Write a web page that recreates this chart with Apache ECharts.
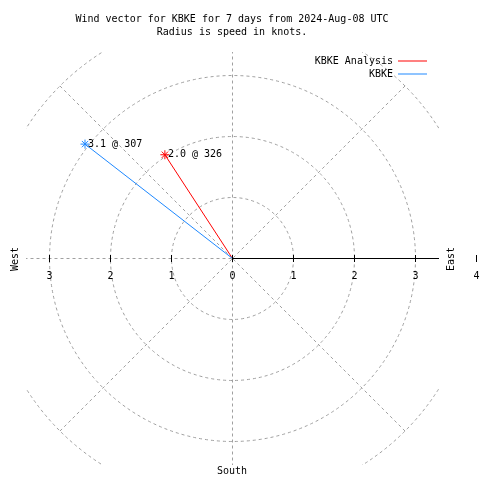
<!DOCTYPE html>
<html><head><meta charset="utf-8">
<script src="https://cdn.jsdelivr.net/npm/echarts@6/dist/echarts.min.js"></script>
<style>html,body{margin:0;padding:0;background:#fff}#c{width:480px;height:480px}</style>
</head><body><div id="c"></div>
<script>
// ---- data ----
const seriesNames = ['KBKE Analysis', 'KBKE'];
const seriesColors = ['#ff0000', '#1e88ff'];
const speeds = [2.03, 3.06];        // knots (radius), label shows 1 decimal
const directions = [326.9, 307.8];  // degrees (compass bearing), label shows whole degrees
const axisMin = -4, axisMax = 4;    // horizontal speed scale (knots)
const compassLabels = ['West', 'East', 'South'];
const titleLines = ['Wind vector for KBKE for 7 days from 2024-Aug-08 UTC', 'Radius is speed in knots.'];

// ---- layout ----
const FONT = 'DejaVu Sans Mono';
const CX = 232.5, CY = 258.5, R = 244;
const GRID = '#a0a0a0';
const STAR = 'path://M5,0L5,10M0,5L10,5M1.5,1.5L8.5,8.5M1.5,8.5L8.5,1.5';
const dashed = {color: GRID, type: [3, 3], width: 1};
const txt = {fontFamily: FONT, fontSize: 10, color: '#000'};

const chart = echarts.init(document.getElementById('c'), null, {renderer: 'canvas'});
chart.setOption({
  animation: false,
  backgroundColor: '#fff',
  title: [
    {text: titleLines[0], left: 232, top: 14, textAlign: 'center', padding: 0, z: 20,
     textStyle: Object.assign({fontWeight: 'normal'}, txt)},
    {text: titleLines[1], left: 232, top: 27, textAlign: 'center', padding: 0, z: 20,
     textStyle: Object.assign({fontWeight: 'normal'}, txt)}
  ],
  legend: seriesNames.map((n, i) => ({
    data: [n], orient: 'vertical', align: 'right', right: 53, top: 56 + i * 13,
    padding: 0, icon: 'rect', itemWidth: 29, itemHeight: 1, z: 20,
    itemStyle: {borderWidth: 0},
    textStyle: txt
  })),
  polar: [{center: [CX, CY], radius: R}],
  angleAxis: {
    polarIndex: 0, type: 'value', min: 90, max: 450, interval: 45,
    startAngle: 0, clockwise: true, z: 0,
    axisLine: {show: false}, axisTick: {show: false}, axisLabel: {show: false},
    splitLine: {show: true, lineStyle: dashed}
  },
  radiusAxis: {
    polarIndex: 0, type: 'value', min: 0, max: 4, interval: 1, z: 1,
    axisLine: {show: true, lineStyle: {color: '#000', width: 1}},
    axisTick: {show: false}, axisLabel: {show: false},
    splitLine: {show: true, lineStyle: dashed}
  },
  grid: {left: CX - R, width: 2 * R, top: 250, height: 12, outerBoundsMode: 'none', containLabel: false},
  xAxis: {
    type: 'value', min: axisMin, max: axisMax, interval: 1, z: 20,
    axisLine: {show: false},
    axisTick: {show: true, inside: true, length: 7, lineStyle: {color: '#000', width: 1}},
    axisLabel: Object.assign({margin: 9, formatter: v => String(Math.abs(v))}, txt),
    splitLine: {show: false}
  },
  yAxis: {type: 'value', min: 0, max: 1, show: false},
  graphic: {elements: [
    {type: 'rect', shape: {x: 0, y: 0, width: 480, height: 52}, style: {fill: '#fff'}, z: 5},
    {type: 'rect', shape: {x: 0, y: 465, width: 480, height: 15}, style: {fill: '#fff'}, z: 5},
    {type: 'rect', shape: {x: 0, y: 0, width: 26, height: 480}, style: {fill: '#fff'}, z: 5},
    {type: 'rect', shape: {x: 439, y: 0, width: 41, height: 480}, style: {fill: '#fff'}, z: 5},
    {type: 'text', x: 15, y: 259, rotation: Math.PI / 2, z: 20,
     style: {text: compassLabels[0], font: '10px ' + FONT, fill: '#000', align: 'center', verticalAlign: 'middle'}},
    {type: 'text', x: 451, y: 259, rotation: Math.PI / 2, z: 20,
     style: {text: compassLabels[1], font: '10px ' + FONT, fill: '#000', align: 'center', verticalAlign: 'middle'}},
    {type: 'text', x: 232, y: 471, z: 20,
     style: {text: compassLabels[2], font: '10px ' + FONT, fill: '#000', align: 'center', verticalAlign: 'middle'}}
  ]},
  series: seriesNames.map((name, i) => ({
    name, type: 'line', coordinateSystem: 'polar', polarIndex: 0, z: 15,
    color: seriesColors[i],
    lineStyle: {color: seriesColors[i], width: 1},
    itemStyle: {color: seriesColors[i], borderColor: seriesColors[i], borderWidth: 1},
    symbol: STAR, symbolSize: 9, showSymbol: true,
    data: [
      {value: [0, directions[i]], symbol: 'none', label: {show: false}},
      {value: [speeds[i], directions[i]],
       label: Object.assign({show: true, position: 'right', distance: -2,
         formatter: speeds[i].toFixed(1) + ' @ ' + Math.floor(directions[i])}, txt)}
    ]
  }))
});
</script></body></html>
